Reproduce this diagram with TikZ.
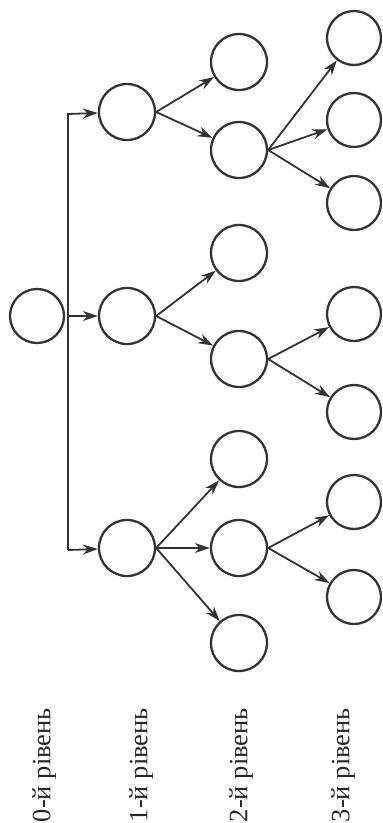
\documentclass[tikz,border=0pt]{standalone}
\usepackage{fontspec}
\setmainfont{Liberation Serif}
\usetikzlibrary{arrows.meta}
\begin{document}
\begin{tikzpicture}[x=1pt,y=-1pt,
  vert/.style={circle,draw=black!80,line width=2.3pt,minimum size=56pt,inner sep=0pt},
  con/.style={draw=black!80,line width=1.8pt,-{Stealth[length=15pt,width=10pt]}},
  lbl/.style={rotate=90,anchor=east,font=\fontsize{26.5}{28}\selectfont,text=black!85,inner sep=0pt}]
\useasboundingbox (0,0) rectangle (383,823);
% level 0
\node[vert,minimum size=54pt] (r) at (37,316) {};
% level 1
\node[vert] (a1) at (127,112) {};
\node[vert] (a2) at (127,316) {};
\node[vert] (a3) at (127,548) {};
% level 2
\node[vert] (b1) at (239,62) {};
\node[vert] (b2) at (239,150) {};
\node[vert] (b3) at (239,253) {};
\node[vert] (b4) at (239,359) {};
\node[vert] (b5) at (239,459) {};
\node[vert] (b6) at (239,548) {};
\node[vert] (b7) at (239,643) {};
% level 3
\node[vert,minimum size=54pt] (c1) at (354,38) {};
\node[vert,minimum size=54pt] (c2) at (354,120) {};
\node[vert,minimum size=54pt] (c3) at (354,203) {};
\node[vert,minimum size=54pt] (c4) at (354,314) {};
\node[vert,minimum size=54pt] (c5) at (354,412) {};
\node[vert,minimum size=54pt] (c6) at (354,502) {};
\node[vert,minimum size=54pt] (c7) at (354,597) {};
% root connector
\coordinate (t) at (68,114);
\coordinate (m) at (68,316);
\coordinate (u) at (68,550);
\draw[con] (u) -- (t) -- (a1);
\draw[con] (m) -- (a2);
\draw[con] (u) -- (a3);
% level 1 -> 2
\draw[con] (a1.east) -- (b1);
\draw[con] (a1.east) -- (b2);
\draw[con] (a2.east) -- (b3);
\draw[con] (a2.east) -- (b4);
\draw[con] (a3.east) -- (b5);
\draw[con] (a3.east) -- (b6);
\draw[con] (a3.east) -- (b7);
% level 2 -> 3
\draw[con] (b2.east) -- (c1);
\draw[con] (b2.east) -- (c2);
\draw[con] (b2.east) -- (c3);
\draw[con] (b4.east) -- (c4);
\draw[con] (b4.east) -- (c5);
\draw[con] (b6.east) -- (c6);
\draw[con] (b6.east) -- (c7);
% labels
\node[lbl] (l0) at (44,708) {0-й рівень};
\node[lbl] (l1) at (141,708) {1-й рівень};
\node[lbl] (l2) at (241,708) {2-й рівень};
\node[lbl] (l3) at (343,708) {3-й рівень};
\end{tikzpicture}
\end{document}
